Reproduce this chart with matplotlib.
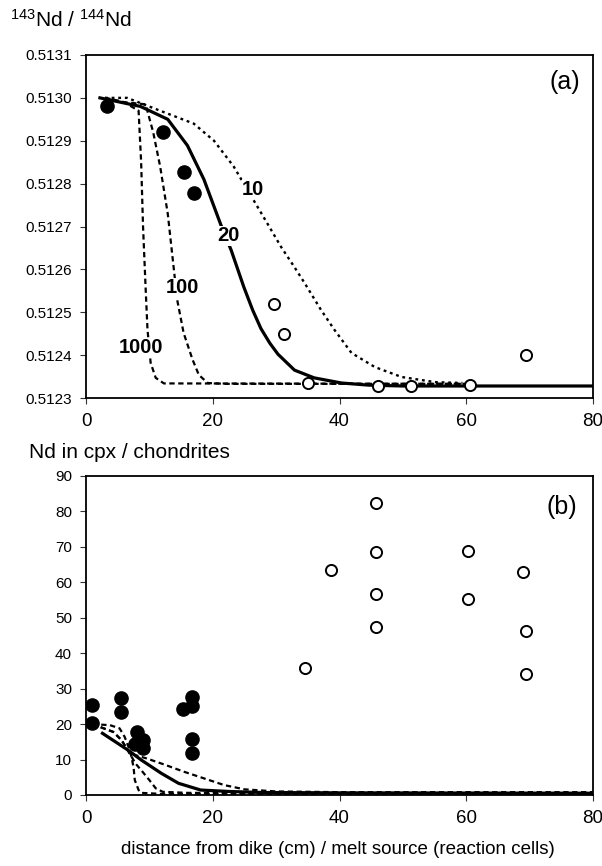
import matplotlib
matplotlib.use("Agg")
import matplotlib.pyplot as plt

plt.rcParams["font.family"] = ["Liberation Sans", "DejaVu Sans"]
plt.rcParams["mathtext.fontset"] = "custom"
plt.rcParams["mathtext.rm"] = "Liberation Sans"
plt.rcParams["mathtext.default"] = "regular"

# =========================
# Panel (a): 143Nd/144Nd
# =========================
a_filled_x = [3.3, 12.2, 15.4, 17.1]
a_filled_y = [0.51298, 0.51292, 0.512827, 0.512778]

a_open_x = [29.7, 31.3, 35.1, 46.0, 51.3, 60.6, 69.5]
a_open_y = [0.512519, 0.512449, 0.512335, 0.512328, 0.512328, 0.51233, 0.5124]

# model curves (labelled by ratio)
a_20_x = [2.2, 8.6, 12.9, 16.0, 18.6, 21.3, 22.9, 24.9, 26.3, 27.6, 29.0, 30.3, 32.9, 36.0, 40.3, 44.6, 50, 80]
a_20_y = [0.51300, 0.51298, 0.51295, 0.512889, 0.51281, 0.512703, 0.512645, 0.512559, 0.512505,
          0.512462, 0.512428, 0.512402, 0.512365, 0.512347, 0.512335, 0.51233, 0.512328, 0.512328]

a_10_x = [3, 6.5, 11.7, 17.0, 20.2, 23.3, 26.5, 28.7, 30.8, 32.9, 34.5, 37.1, 39.2, 41.9, 45.6, 49.8, 55.1, 59.4]
a_10_y = [0.51300, 0.51300, 0.51297, 0.51294, 0.5129, 0.51284, 0.51276, 0.512705, 0.512652, 0.512605,
          0.512568, 0.512505, 0.512459, 0.512405, 0.512372, 0.512349, 0.512337, 0.512335]

a_100_x = [3, 6, 9.4, 10.6, 11.7, 12.9, 13.7, 14.4, 15.4, 16.8, 17.8, 19.2, 22, 60]
a_100_y = [0.51300, 0.51299, 0.512985, 0.51292, 0.51284, 0.51273, 0.512622, 0.512528,
           0.512452, 0.51239, 0.512354, 0.512335, 0.512333, 0.512333]

a_1000_x = [3, 6, 8.3, 8.7, 9.0, 9.4, 9.7, 10.2, 11.0, 12.3, 60]
a_1000_y = [0.51300, 0.51299, 0.51297, 0.51285, 0.5127, 0.512559, 0.51246, 0.512382,
            0.512347, 0.512334, 0.512333]

a_labels = ["10", "20", "100", "1000"]
a_label_x = [26.4, 22.5, 15.2, 8.6]
a_label_y = [0.512787, 0.512678, 0.512557, 0.512417]

a_yticks = [0.5123, 0.5124, 0.5125, 0.5126, 0.5127, 0.5128, 0.5129, 0.5130, 0.5131]

# =========================
# Panel (b): Nd in cpx / chondrites
# =========================
b_filled_x = [0.9, 0.9, 5.6, 5.6, 8.1, 7.8, 9.0, 9.0, 15.3, 16.7, 16.7, 16.7, 16.7]
b_filled_y = [25.4, 20.2, 27.3, 23.3, 17.7, 14.4, 15.5, 13.3, 24.2, 27.6, 25.0, 15.7, 11.8]

b_open_x = [34.6, 38.7, 45.7, 45.7, 45.7, 45.7, 60.3, 60.3, 69.0, 69.4, 69.4]
b_open_y = [35.8, 63.4, 82.5, 68.5, 56.7, 47.3, 68.8, 55.3, 63.0, 46.2, 34.0]

b_20_x = [2.6, 6.6, 8.7, 11.9, 14.6, 18.1, 22.5, 28, 40, 80]
b_20_y = [17.4, 12.7, 9.9, 6.1, 3.3, 1.4, 1.0, 0.7, 0.6, 0.5]

b_10_x = [1, 4.3, 5.6, 6.9, 9.6, 12.5, 15.4, 18.6, 21.8, 25, 30, 40, 80]
b_10_y = [20, 17.8, 15.5, 11.7, 10.3, 8.5, 6.6, 4.7, 2.8, 1.6, 1.0, 0.8, 0.8]

b_100_x = [1, 4.3, 5.6, 6.9, 7.8, 8.9, 10, 11, 12.1, 16, 80]
b_100_y = [20, 17.8, 15.5, 11.7, 8.9, 6.6, 4.2, 1.9, 0.9, 0.6, 0.5]

b_1000_x = [1, 3.8, 5.3, 6.1, 6.7, 7.1, 7.5, 7.7, 8.3, 8.7, 12, 80]
b_1000_y = [20, 19.7, 18.8, 16.4, 13.6, 11.3, 7.9, 4.2, 1.4, 0.6, 0.3, 0.3]

x_ticks = [0, 20, 40, 60, 80]
b_yticks = [0, 10, 20, 30, 40, 50, 60, 70, 80, 90]

DOTS = (0, (1.2, 1.6))
DASH = (0, (2.4, 1.6))


def style_axes(ax):
    for sp in ax.spines.values():
        sp.set_linewidth(1.3)
        sp.set_color("black")
    ax.tick_params(axis="y", direction="out", length=4, width=0.8,
                   labelsize=11, pad=6, colors="#333333", labelcolor="black")
    ax.tick_params(axis="x", direction="out", length=4, width=0.8,
                   labelsize=13.5, pad=7, colors="#333333", labelcolor="black")


fig = plt.figure(figsize=(6.02, 8.66), dpi=100)

# ---- panel (a)
ax1 = fig.add_axes([86 / 602, 1 - 398 / 866, 507 / 602, 343 / 866])
ax1.plot(a_10_x, a_10_y, color="black", lw=1.7, linestyle=DOTS)
ax1.plot(a_100_x, a_100_y, color="black", lw=1.6, linestyle=DASH)
ax1.plot(a_1000_x, a_1000_y, color="black", lw=1.6, linestyle=DASH)
ax1.plot(a_20_x, a_20_y, color="black", lw=2.3)
ax1.plot(a_filled_x, a_filled_y, "o", color="black", ms=9.5, zorder=5)
ax1.plot(a_open_x, a_open_y, "o", mfc="white", mec="black", mew=1.4, ms=8, zorder=5)
for lab, lx, ly in zip(a_labels, a_label_x, a_label_y):
    ax1.text(lx, ly, lab, fontsize=14.5, fontweight="bold", ha="center", va="center",
             zorder=6, bbox=dict(facecolor="white", edgecolor="none", pad=0.5))
ax1.text(0.945, 0.92, "(a)", transform=ax1.transAxes, fontsize=18,
         ha="center", va="center")
ax1.set_xlim(0, 80)
ax1.set_ylim(0.5123, 0.5131)
ax1.set_xticks(x_ticks)
ax1.set_yticks(a_yticks)
ax1.set_yticklabels([f"{v:.4f}" for v in a_yticks])
style_axes(ax1)

fig.text(10 / 602, 1 - 20 / 866, r"$^{143}$Nd / $^{144}$Nd", fontsize=15,
         ha="left", va="center")

# ---- panel (b)
ax2 = fig.add_axes([86 / 602, 1 - 795 / 866, 507 / 602, 319 / 866])
ax2.plot(b_10_x, b_10_y, color="black", lw=1.6, linestyle=DASH)
ax2.plot(b_100_x, b_100_y, color="black", lw=1.6, linestyle=DASH)
ax2.plot(b_1000_x, b_1000_y, color="black", lw=1.6, linestyle=DASH)
ax2.plot(b_20_x, b_20_y, color="black", lw=2.3)
ax2.plot(b_filled_x, b_filled_y, "o", color="black", ms=9.5, zorder=5)
ax2.plot(b_open_x, b_open_y, "o", mfc="white", mec="black", mew=1.4, ms=8, zorder=5)
ax2.text(0.939, 0.903, "(b)", transform=ax2.transAxes, fontsize=18,
         ha="center", va="center")
ax2.set_xlim(0, 80)
ax2.set_ylim(0, 90)
ax2.set_xticks(x_ticks)
ax2.set_yticks(b_yticks)
style_axes(ax2)

fig.text(29 / 602, 1 - 453 / 866, "Nd in cpx / chondrites", fontsize=15,
         ha="left", va="center")
fig.text(338 / 602, 1 - 850 / 866,
         "distance from dike (cm) / melt source (reaction cells)",
         fontsize=13.5, ha="center", va="center")

fig.savefig("out.png", dpi=100, facecolor="white")
